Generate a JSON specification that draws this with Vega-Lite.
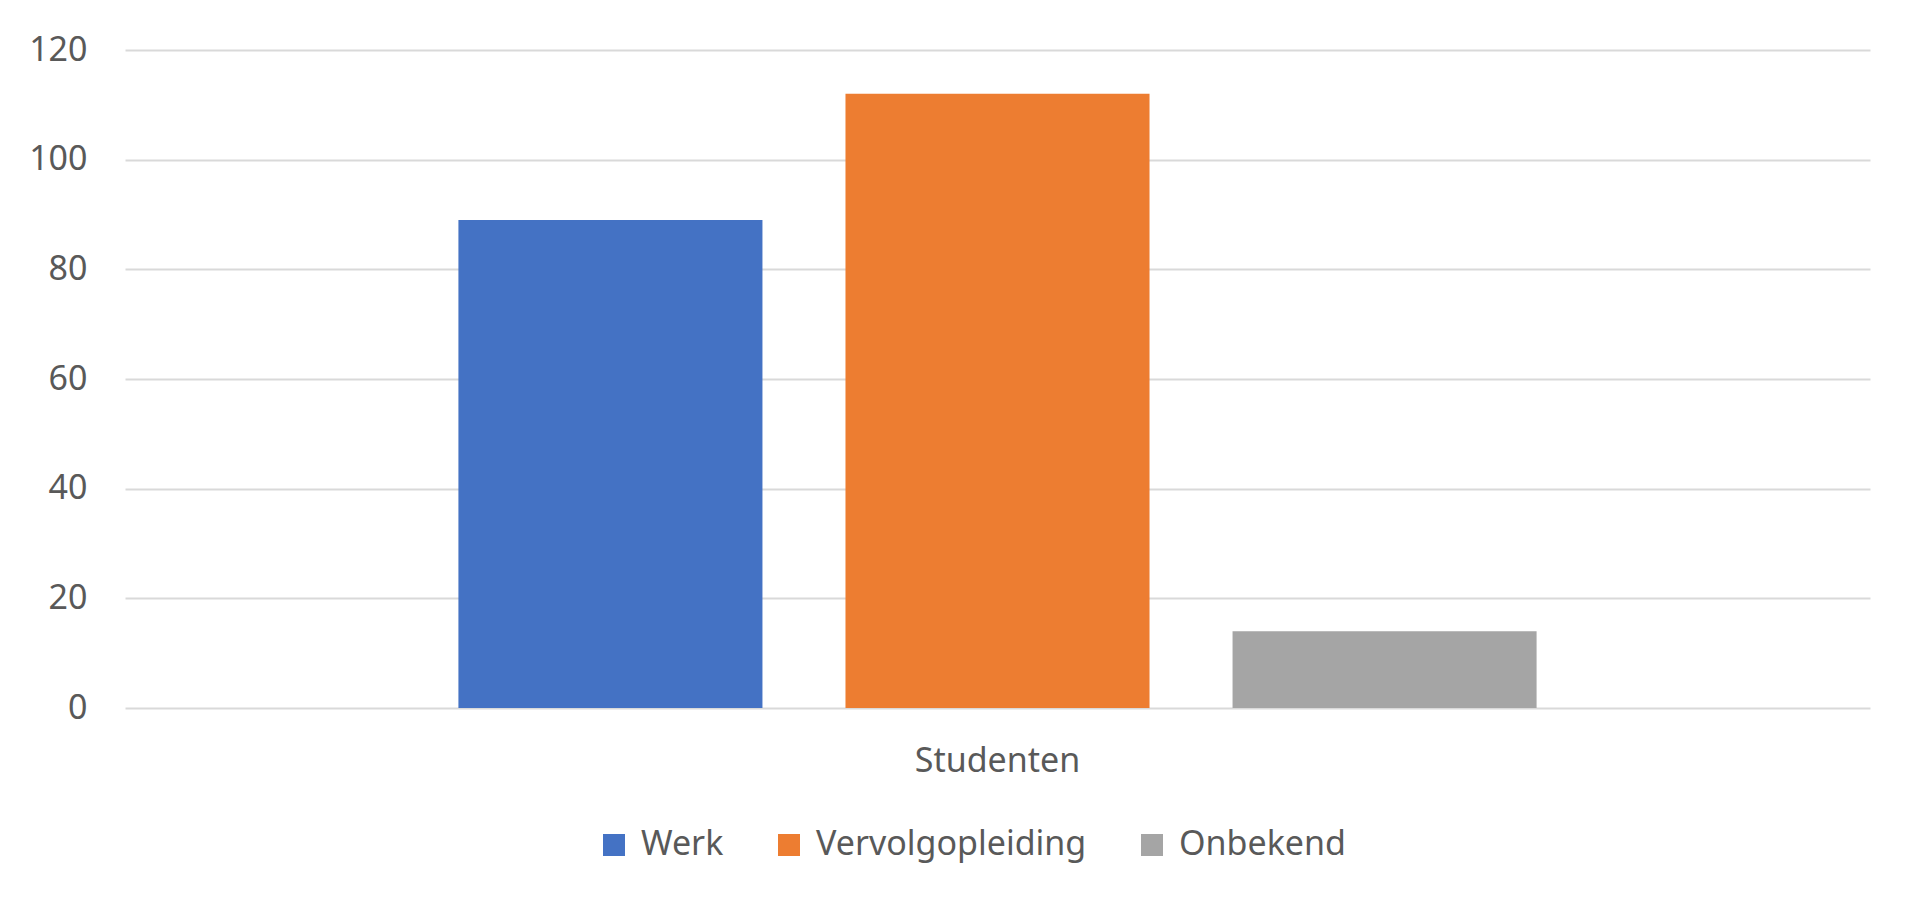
{
  "$schema": "https://vega.github.io/schema/vega-lite/v6.json",
  "autosize": {"type": "none"},
  "width": 1745,
  "height": 658,
  "padding": {"left": 125, "top": 50, "right": 50, "bottom": 206},
  "background": "white",
  "data": {
    "values": [
      {"groep": "Studenten", "bestemming": "Werk", "aantal": 89},
      {"groep": "Studenten", "bestemming": "Vervolgopleiding", "aantal": 112},
      {"groep": "Studenten", "bestemming": "Onbekend", "aantal": 14}
    ]
  },
  "mark": {"type": "bar"},
  "encoding": {
    "x": {
      "field": "groep",
      "type": "nominal",
      "title": null,
      "scale": {"paddingInner": 0, "paddingOuter": 0.2515},
      "axis": {
        "domain": false,
        "ticks": false,
        "labelAngle": 0,
        "labelPadding": 36,
        "labelFont": "Noto Sans",
        "labelFontSize": 34,
        "labelColor": "#595959"
      }
    },
    "xOffset": {
      "field": "bestemming",
      "type": "nominal",
      "sort": ["Werk", "Vervolgopleiding", "Onbekend"],
      "scale": {"paddingInner": 0.2145, "paddingOuter": 0.107}
    },
    "y": {
      "field": "aantal",
      "type": "quantitative",
      "title": null,
      "scale": {"domain": [0, 120], "nice": false},
      "axis": {
        "values": [0, 20, 40, 60, 80, 100, 120],
        "domain": false,
        "ticks": false,
        "grid": true,
        "gridColor": "#d9d9d9",
        "gridWidth": 2,
        "labelPadding": 38,
        "labelFont": "Noto Sans",
        "labelFontSize": 34,
        "labelColor": "#595959"
      }
    },
    "color": {
      "field": "bestemming",
      "type": "nominal",
      "sort": ["Werk", "Vervolgopleiding", "Onbekend"],
      "scale": {
        "domain": ["Werk", "Vervolgopleiding", "Onbekend"],
        "range": ["#4472C4", "#ED7D31", "#A5A5A5"]
      },
      "legend": {
        "title": null,
        "orient": "none",
        "legendX": 472,
        "legendY": 778,
        "direction": "horizontal",
        "symbolType": "square",
        "symbolSize": 484,
        "symbolStrokeWidth": 0,
        "labelFont": "Noto Sans",
        "labelFontSize": 34,
        "labelColor": "#595959",
        "labelLimit": 400,
        "labelOffset": 10,
        "columnPadding": 48
      }
    }
  },
  "config": {
    "view": {"stroke": null}
  }
}
